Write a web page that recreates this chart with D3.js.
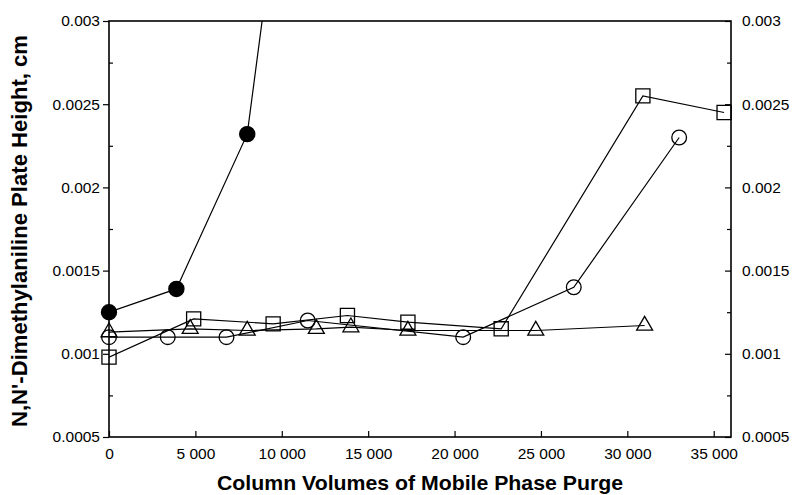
<!DOCTYPE html>
<html>
<head>
<meta charset="utf-8">
<script src="https://cdn.jsdelivr.net/npm/d3@7/dist/d3.min.js"></script>
<style>
  body { margin: 0; background: #fff; }
  svg { display: block; }
</style>
</head>
<body>
<div id="chart"></div>
<script>
// data
var filledX = [0, 3900, 8000, 10000];
var filledY = [0.00125, 0.00139, 0.00232, 0.0039];

var squareX = [0, 4900, 9500, 13800, 17300, 22700, 30900, 35600];
var squareY = [0.00098, 0.00121, 0.00118, 0.00123, 0.00119, 0.00115, 0.00255, 0.00245];

var circleX = [0, 3400, 6800, 11500, 20500, 26900, 33000];
var circleY = [0.0011, 0.0011, 0.0011, 0.0012, 0.0011, 0.0014, 0.0023];

var triangleX = [0, 4700, 8000, 12000, 14000, 17300, 24700, 31000];
var triangleY = [0.00113, 0.00115, 0.00114, 0.00115, 0.00116, 0.00114, 0.00114, 0.00117];

var xTicks = [0, 5000, 10000, 15000, 20000, 25000, 30000, 35000];
var yTicks = [0.0005, 0.001, 0.0015, 0.002, 0.0025, 0.003];
var yMinor = [0.00075, 0.00125, 0.00175, 0.00225, 0.00275];

var xTitle = "Column Volumes of Mobile Phase Purge";
var yTitle = "N,N'-Dimethylaniline Plate Height, cm";

var width = 794, height = 495;
var plot = { left: 109, right: 731, top: 21, bottom: 437 };

var svg = d3.select("#chart").append("svg")
    .attr("width", width)
    .attr("height", height)
    .style("font-family", "'Liberation Sans', Arial, sans-serif");

var x = d3.scaleLinear().domain([0, 36000]).range([plot.left, plot.right]);
var y = d3.scaleLinear().domain([0.0005, 0.003]).range([plot.bottom, plot.top]);

var spaceFmt = d3.formatLocale({ decimal: ".", thousands: " ", grouping: [3], currency: ["", ""] }).format(",d");
var yFmt = function(d) { return String(+d.toFixed(4)); };

svg.append("clipPath").attr("id", "clip")
    .append("rect")
    .attr("x", plot.left).attr("y", plot.top)
    .attr("width", plot.right - plot.left)
    .attr("height", plot.bottom - plot.top);

// axes
svg.append("g")
    .attr("transform", "translate(" + plot.left + ",0)")
    .call(d3.axisLeft(y).tickValues(yTicks).tickFormat(yFmt).tickSize(6).tickSizeOuter(0).tickPadding(3));
svg.append("g")
    .attr("transform", "translate(" + plot.left + ",0)")
    .call(d3.axisLeft(y).tickValues(yMinor).tickFormat("").tickSize(-4).tickSizeOuter(0));

svg.append("g")
    .attr("transform", "translate(" + plot.right + ",0)")
    .call(d3.axisRight(y).tickValues(yTicks).tickFormat(yFmt).tickSize(-6).tickSizeOuter(0).tickPadding(11));
svg.append("g")
    .attr("transform", "translate(" + plot.right + ",0)")
    .call(d3.axisRight(y).tickValues(yMinor).tickFormat("").tickSize(-4).tickSizeOuter(0));

svg.append("g")
    .attr("transform", "translate(0," + plot.bottom + ")")
    .call(d3.axisBottom(x).tickValues(xTicks).tickFormat(spaceFmt).tickSize(-6).tickSizeOuter(0).tickPadding(11));

svg.selectAll(".tick text")
    .attr("fill", "#000")
    .style("font-size", "15.5px");
svg.selectAll(".domain").remove();
svg.selectAll(".tick line").attr("stroke", "#000").attr("stroke-width", 1.2);

// frame
svg.append("rect")
    .attr("x", plot.left).attr("y", plot.top)
    .attr("width", plot.right - plot.left)
    .attr("height", plot.bottom - plot.top)
    .attr("fill", "none")
    .attr("stroke", "#000")
    .attr("stroke-width", 1.6);

// titles
svg.append("text")
    .attr("x", 420)
    .attr("y", 490)
    .attr("text-anchor", "middle")
    .attr("textLength", 406)
    .attr("lengthAdjust", "spacingAndGlyphs")
    .style("font-size", "20.5px")
    .style("font-weight", "bold")
    .text(xTitle);

svg.append("text")
    .attr("transform", "translate(27,231) rotate(-90)")
    .attr("text-anchor", "middle")
    .attr("textLength", 392)
    .attr("lengthAdjust", "spacingAndGlyphs")
    .style("font-size", "21.5px")
    .style("font-weight", "bold")
    .text(yTitle);

// series
var series = [
    { xs: squareX, ys: squareY, sym: d3.symbolSquare, size: 200, fill: "none" },
    { xs: circleX, ys: circleY, sym: d3.symbolCircle, size: 170, fill: "none" },
    { xs: triangleX, ys: triangleY, sym: d3.symbolTriangle, size: 110, fill: "none" },
    { xs: filledX, ys: filledY, sym: d3.symbolCircle, size: 180, fill: "#000" }
];

var line = d3.line()
    .x(function(d) { return x(d[0]); })
    .y(function(d) { return y(d[1]); });

var g = svg.append("g").attr("clip-path", "url(#clip)");

series.forEach(function(s) {
    var pts = s.xs.map(function(v, i) { return [v, s.ys[i]]; });
    g.append("path")
        .datum(pts)
        .attr("d", line)
        .attr("fill", "none")
        .attr("stroke", "#000")
        .attr("stroke-width", 1.2);
});

// markers are not clipped, only those off the top of the scale are skipped
series.forEach(function(s) {
    var pts = s.xs.map(function(v, i) { return [v, s.ys[i]]; })
        .filter(function(d) { return d[1] <= y.domain()[1]; });
    svg.append("g").selectAll("path")
        .data(pts)
        .enter().append("path")
        .attr("transform", function(d) { return "translate(" + x(d[0]) + "," + y(d[1]) + ")"; })
        .attr("d", d3.symbol().type(s.sym).size(s.size))
        .attr("fill", s.fill)
        .attr("stroke", "#000")
        .attr("stroke-width", 1.3);
});
</script>
</body>
</html>
